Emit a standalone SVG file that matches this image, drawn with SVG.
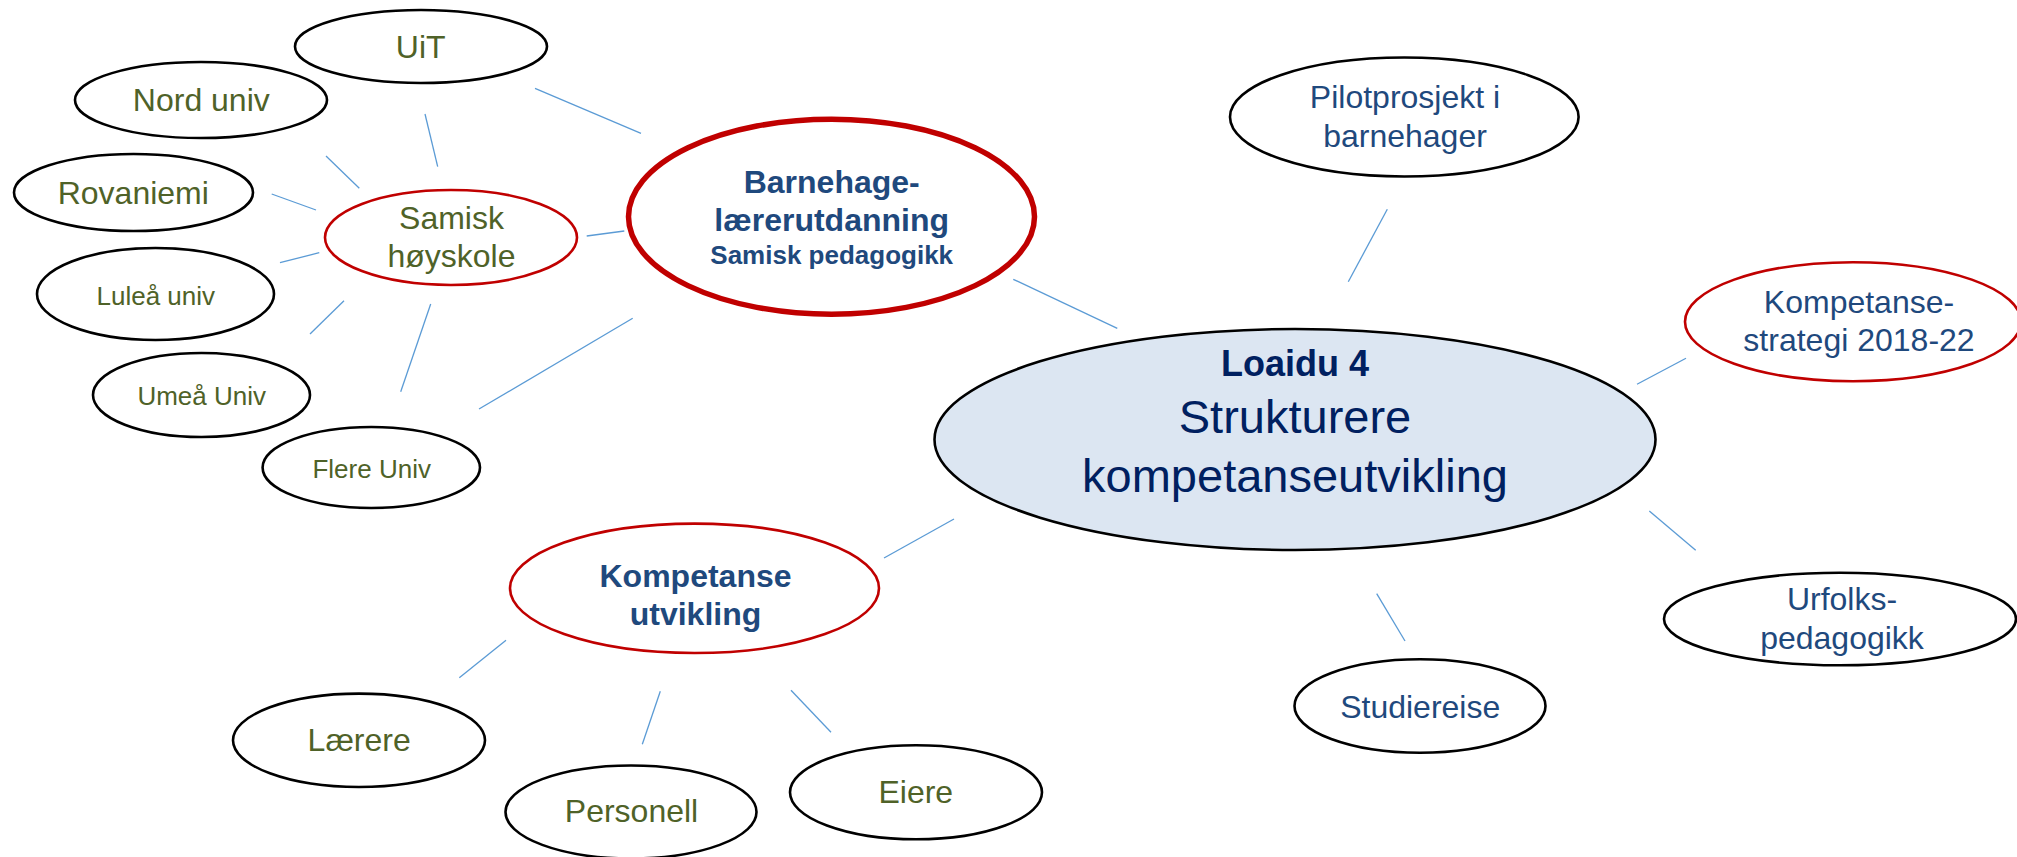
<svg xmlns="http://www.w3.org/2000/svg" width="2017" height="857" viewBox="0 0 2017 857">
<style>
.nb{fill:#ffffff;stroke:#000000;stroke-width:2.6}
.nr{fill:#ffffff;stroke:#C00000;stroke-width:2.6}
.nrt{fill:#ffffff;stroke:#C00000;stroke-width:5.5}
.nc{fill:#DCE6F2;stroke:#000000;stroke-width:2.6}
.conn line{stroke:#5B9BD5;stroke-width:1.3}
text{font-family:"Liberation Sans",Arial,sans-serif;text-anchor:middle}
.g{fill:#4F6228;font-size:32px}
.gs{fill:#4F6228;font-size:26px}
.b{fill:#1F497D;font-size:32px}
.bb{fill:#1F497D;font-size:32px;font-weight:bold}
.bbs{fill:#1F497D;font-size:26px;font-weight:bold}
.c1{fill:#002060;font-size:36px;font-weight:bold}
.c2{fill:#002060;font-size:47px}
</style>
<g id="connectors" class="conn">
<line x1="425" y1="114" x2="437.7" y2="166.7"/>
<line x1="326" y1="156" x2="359.3" y2="188.3"/>
<line x1="271.7" y1="194" x2="316" y2="210"/>
<line x1="280" y1="262.7" x2="319.3" y2="252.7"/>
<line x1="310" y1="334" x2="344" y2="300.7"/>
<line x1="400.7" y1="391.7" x2="430.7" y2="304"/>
<line x1="535" y1="88.3" x2="641" y2="133.3"/>
<line x1="586.7" y1="236" x2="624.3" y2="231"/>
<line x1="479" y1="409" x2="632.7" y2="318.3"/>
<line x1="1013.3" y1="279.3" x2="1117.3" y2="328.3"/>
<line x1="1387.3" y1="209.3" x2="1348.3" y2="281.7"/>
<line x1="1686" y1="358.3" x2="1637" y2="384.3"/>
<line x1="1649.3" y1="511" x2="1695.7" y2="550.3"/>
<line x1="1376.7" y1="593.7" x2="1405" y2="641"/>
<line x1="954" y1="519" x2="884" y2="558"/>
<line x1="459.3" y1="677.7" x2="506" y2="640.3"/>
<line x1="660.3" y1="691.3" x2="642.3" y2="744.3"/>
<line x1="791" y1="690.3" x2="831" y2="732.3"/>
</g>
<g id="node-center">
<ellipse class="nc" cx="1295" cy="439.5" rx="360.5" ry="110.5"/>
<text class="c1" x="1295" y="375.7">Loaidu 4</text>
<text class="c2" x="1295" y="432.5">Strukturere</text>
<text class="c2" x="1295" y="492">kompetanseutvikling</text>
</g>
<g id="node-barnehage">
<ellipse class="nrt" cx="831.5" cy="216.7" rx="203" ry="97.5"/>
<text class="bb" x="831.7" y="193.3">Barnehage-</text>
<text class="bb" x="831.7" y="231">lærerutdanning</text>
<text class="bbs" x="831.7" y="264.3">Samisk pedagogikk</text>
</g>
<g id="node-samisk">
<ellipse class="nr" cx="451" cy="237.5" rx="126" ry="47.5"/>
<text class="g" x="451.5" y="229">Samisk</text>
<text class="g" x="451.5" y="267">høyskole</text>
</g>
<g id="node-uit">
<ellipse class="nb" cx="421" cy="46.5" rx="126" ry="36.5"/>
<text class="g" x="420.7" y="58">UiT</text>
</g>
<g id="node-nord">
<ellipse class="nb" cx="201" cy="100" rx="126" ry="38"/>
<text class="g" x="201.3" y="111">Nord univ</text>
</g>
<g id="node-rovaniemi">
<ellipse class="nb" cx="133.5" cy="192.5" rx="119.5" ry="38.5"/>
<text class="g" x="133.3" y="204">Rovaniemi</text>
</g>
<g id="node-lulea">
<ellipse class="nb" cx="155.5" cy="294" rx="118.5" ry="46"/>
<text class="gs" x="155.8" y="305">Luleå univ</text>
</g>
<g id="node-umea">
<ellipse class="nb" cx="201.5" cy="395" rx="108.5" ry="42"/>
<text class="gs" x="201.7" y="405">Umeå Univ</text>
</g>
<g id="node-flere">
<ellipse class="nb" cx="371.3" cy="467.5" rx="108.7" ry="40.5"/>
<text class="gs" x="371.7" y="477.7">Flere Univ</text>
</g>
<g id="node-pilot">
<ellipse class="nb" cx="1404.3" cy="117" rx="174.3" ry="59.5"/>
<text class="b" x="1405" y="108.3">Pilotprosjekt i</text>
<text class="b" x="1405" y="146.7">barnehager</text>
</g>
<g id="node-strategi">
<ellipse class="nr" cx="1853" cy="321.7" rx="168" ry="59.5"/>
<text class="b" x="1859" y="313.3">Kompetanse-</text>
<text class="b" x="1859" y="351">strategi 2018-22</text>
</g>
<g id="node-urfolks">
<ellipse class="nb" cx="1840" cy="619" rx="176" ry="46.3"/>
<text class="b" x="1842" y="610.3">Urfolks-</text>
<text class="b" x="1842" y="648.7">pedagogikk</text>
</g>
<g id="node-studiereise">
<ellipse class="nb" cx="1420" cy="706" rx="125.5" ry="46.7"/>
<text class="b" x="1420.2" y="718">Studiereise</text>
</g>
<g id="node-kompetanse">
<ellipse class="nr" cx="694.5" cy="588.3" rx="184.5" ry="64.7"/>
<text class="bb" x="695.5" y="587">Kompetanse</text>
<text class="bb" x="695.5" y="624.7">utvikling</text>
</g>
<g id="node-laerere">
<ellipse class="nb" cx="359" cy="740.3" rx="126" ry="46.7"/>
<text class="g" x="359.2" y="751">Lærere</text>
</g>
<g id="node-personell">
<ellipse class="nb" cx="631" cy="812" rx="125.5" ry="46.5"/>
<text class="g" x="631.5" y="822">Personell</text>
</g>
<g id="node-eiere">
<ellipse class="nb" cx="916" cy="792.3" rx="126" ry="47"/>
<text class="g" x="915.8" y="803">Eiere</text>
</g>
</svg>
